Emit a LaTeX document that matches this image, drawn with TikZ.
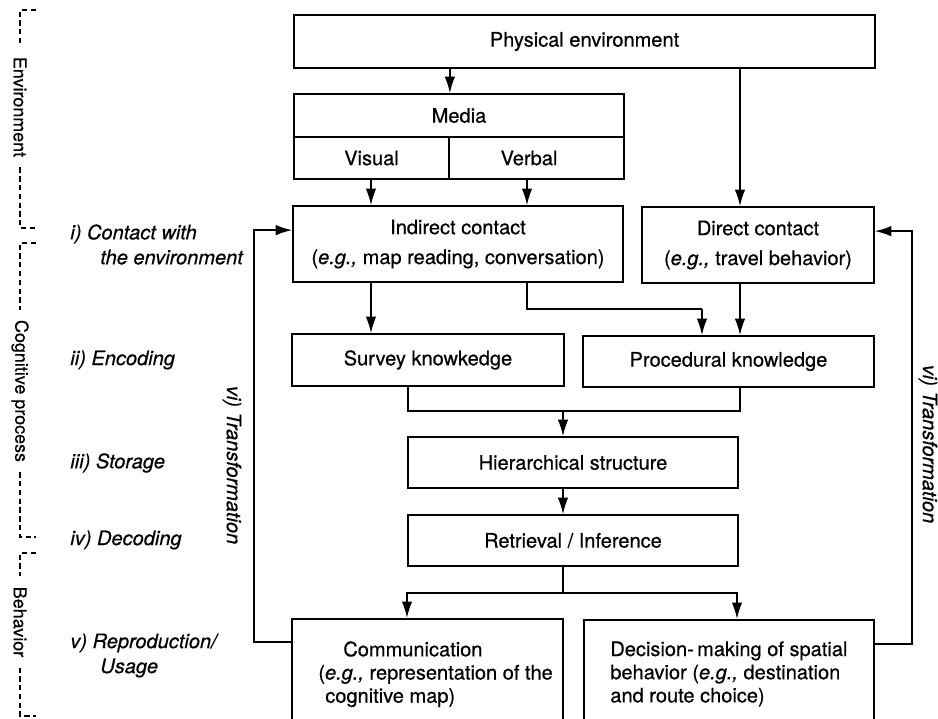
\documentclass[tikz,border=0pt]{standalone}
\usepackage{fontspec}
\setmainfont{TeX Gyre Heros}[FakeBold=0.5]
\usetikzlibrary{arrows.meta,positioning,calc}
\tikzset{
  box/.style     = {draw, line width=1pt, inner sep=0pt, align=center,
                    font=\fontsize{11.4}{14}\selectfont},
  boxtext/.style = {inner sep=0pt, align=left, anchor=north west,
                    font=\fontsize{11.4}{13.2}\selectfont},
  arr/.style     = {-{Latex[length=3.3mm,width=2.1mm]}, line width=0.9pt},
  link/.style    = {line width=0.9pt},
  stage/.style   = {anchor=west, align=left, inner sep=0pt,
                    font=\fontsize{11.4}{14.2}\selectfont\itshape},
  part/.style    = {rotate=-90, inner sep=0.2cm, font=\fontsize{10.2}{12}\selectfont},
  trans/.style   = {rotate=-90, inner sep=0pt, font=\fontsize{11.4}{14}\selectfont\itshape},
  bracket/.style = {dash pattern=on 3pt off 2pt, line width=0.7pt}
}

\begin{document}
\begin{tikzpicture}[x=0.02cm, y=-0.02cm]
  \useasboundingbox (0,0) rectangle (938,718);
  \clip (0,0) rectangle (938,718);

  % boxes
  \node[box, minimum width=11.62cm, minimum height=1.06cm] (phys) at (584.5,41.5) {Physical environment};
  \node[box, minimum width=6.6cm, minimum height=0.86cm] (media) at (459,115.5) {Media};
  \node[box, minimum width=3.1cm, minimum height=0.84cm] (visual) at (371.5,158) {Visual};
  \node[box, minimum width=3.5cm, minimum height=0.84cm] (verbal) at (536.5,158) {\hspace*{-0.3cm}Verbal};
  \node[box, minimum width=6.6cm, minimum height=1.52cm] (indirect) at (458,244)
    {Indirect contact\\[3pt](\textit{e.g.,} map reading, conversation)};
  \node[box, minimum width=4.64cm, minimum height=1.52cm] (direct) at (758,245)
    {Direct contact\\[3pt](\textit{e.g.,} travel behavior)};
  \node[box, minimum width=5.44cm, minimum height=1.04cm] (survey) at (428,360) {Survey knowkedge};
  \node[box, minimum width=5.82cm, minimum height=1.02cm] (proc) at (728.5,361.5) {Procedural knowledge};
  \node[box, minimum width=6.6cm, minimum height=1.02cm] (hier) at (573,462.5) {Hierarchical structure};
  \node[box, minimum width=6.6cm, minimum height=1.02cm] (retr) at (573,540.5) {Retrieval / Inference};
  \node[box, anchor=north west, minimum width=5.42cm, minimum height=3cm] (comm) at (291,618) {};
  \node[box, anchor=north west, minimum width=5.8cm, minimum height=3cm] (dec) at (583,619) {};
  \node[boxtext] (commtxt) at (318,641)
    {\hspace*{0.5cm}Communication\\(\textit{e.g.,} representation of the\\\hspace*{0.14cm}cognitive map)};
  \node[boxtext] (dectxt) at (610,641)
    {Decision-\,making of spatial\\behavior (\textit{e.g.,} destination\\and route choice)};

  % stages
  \node[stage] (st1) at (70,244.5) {i) Contact with\\\hspace*{0.6cm}the environment};
  \node[stage] (st2) at (70,360) {ii) Encoding};
  \node[stage] (st3) at (70,463) {iii) Storage};
  \node[stage] (st4) at (70,540) {iv) Decoding};
  \node[stage] (st5) at (70,655.5) {v) Reproduction/\\\hspace*{0.6cm}Usage};

  \node[trans] (transl) at (232,465) {vi) Transformation};
  \node[trans] (transr) at (928,444) {vi) Transformation};

  % parts
  \node[part] (envlab) at (20,107) {Environment};
  \node[part] (coglab) at (20,391) {Cognitive process};
  \node[part] (behlab) at (20,622) {Behavior};
  \coordinate (envtop) at (20,10);
  \coordinate (envbot) at (20,228);
  \coordinate (cogtop) at (20,243);
  \coordinate (cogbot) at (20,537);
  \coordinate (behtop) at (20,553);
  \coordinate (behbot) at (20,716);
  \foreach \p in {env,cog,beh}{
    \draw[bracket] ($(\p top)+(16,0)$) -- (\p top) -- (\p lab);
    \draw[bracket] (\p lab) -- (\p bot) -- ++(16,0);
  }

  % lanes
  \coordinate (xb) at (371,0);
  \coordinate (xc) at (527,0);
  \coordinate (xd) at (740,0);
  \coordinate (kink) at (702,309);
  \coordinate (merge) at (563,411);
  \coordinate (split) at (563,593);
  \coordinate (xf) at (408,0);
  \coordinate (xh) at (407,0);
  \coordinate (xi) at (737,0);
  \coordinate (fbl) at (254,400);
  \coordinate (fbr) at (912,400);

  % connectors
  \draw[arr] (phys.south -| visual.east) -- (media.north -| visual.east);
  \draw[arr] (phys.south -| xd) -- (direct.north -| xd);
  \draw[arr] (visual.south -| xb) -- (indirect.north -| xb);
  \draw[arr] (verbal.south -| xc) -- (indirect.north -| xc);
  \draw[arr] (indirect.south -| xb) -- (survey.north -| xb);
  \draw[link] (indirect.south -| xc) |- (kink);
  \draw[arr] (kink) -- (proc.north -| kink);
  \draw[arr] (direct.south -| xd) -- (proc.north -| xd);
  \draw[link] (survey.south -| xf) |- (merge) -| (proc.south -| xd);
  \draw[arr] (merge) -- (hier.north -| merge);
  \draw[arr] (hier.south -| merge) -- (retr.north -| merge);
  \draw[link] (retr.south -| split) -- (split);
  \draw[arr] (split) -| (comm.north -| xh);
  \draw[arr] (split) -| (dec.north -| xi);
  \draw[arr] ([yshift=-0.48cm]comm.north west) -| (fbl) |- ([yshift=-0.5cm]indirect.north west);
  \draw[arr] ([yshift=-0.5cm]dec.north east) -| (fbr) |- ([yshift=-0.5cm]direct.north east);
\end{tikzpicture}
\end{document}
